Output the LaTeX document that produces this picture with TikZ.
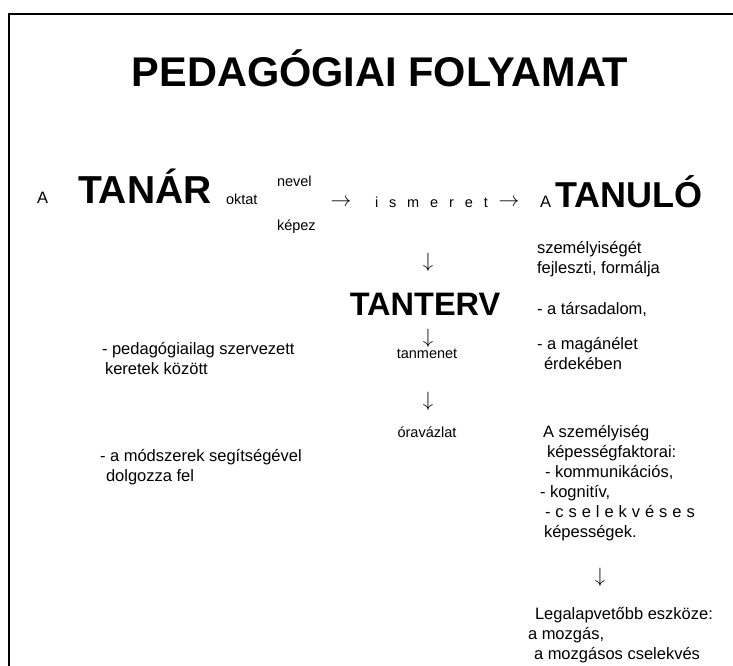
\documentclass[tikz,border=0pt]{standalone}
\usepackage{fontspec}
\setmainfont{Liberation Sans}
\usetikzlibrary{positioning}

\begin{document}
\begin{tikzpicture}[x=1pt,y=-1pt,
  every node/.style={inner sep=0pt,outer sep=0pt},
  lbl/.style={anchor=base west,align=left,font=\fontsize{16.5}{20}\selectfont},
  mid/.style={anchor=base,font=\fontsize{14.5}{18}\selectfont},
  big/.style={anchor=base west,font=\fontsize{36}{40}\selectfont\bfseries},
  arr/.style={font=\fontsize{20.74}{22}\selectfont}]
  \useasboundingbox (0,0) rectangle (733,666);
  \draw[line width=1.2pt] (9,666)--(9,14)--(733,14);

  \node[anchor=base,font=\fontsize{41.5}{44}\selectfont\bfseries] (title) at (380,87) {PEDAGÓGIAI FOLYAMAT};

  % first row (multi-line nodes sit on their last line)
  \node[lbl] (a1) at (37,203) {A};
  \node[big,font=\fontsize{39}{40}\selectfont\bfseries] (tanar) at (78,203) {TANÁR};
  \node[mid,anchor=base west] (oktat) at (226,204) {oktat};
  \node[mid,anchor=base west] (nevel) at (277,186) {nevel};
  \node[mid,anchor=base west] (kepez) at (277,230) {képez};
  \node[arr] (r1) at (341,203) {$\rightarrow$};
  \node[mid,anchor=base west] (ismeret) at (375,207) {{\spaceskip=.75em\relax i s m e r e t}};
  \node[arr] (r2) at (509,203) {$\rightarrow$};
  \node[lbl] (a2) at (540,207) {A};
  \node[big] (tanulo) at (555,207) {TANULÓ};
  \node[lbl] (szem) at (537,273) {személyiségét\\fejleszti, formálja};

  % middle column
  \node[arr] (d1) at (428,262) {$\downarrow$};
  \node[big,anchor=base,font=\fontsize{32.5}{36}\selectfont\bfseries] (tanterv) at (425,315) {TANTERV};
  \node[arr] (d2) at (428,338) {$\downarrow$};
  \node[mid] (tanmenet) at (427,358) {tanmenet};
  \node[arr] (d3) at (428,401) {$\downarrow$};
  \node[mid] (ora) at (427,437) {óravázlat};

  % right column
  \node[lbl] (tars) at (537,314) {- a társadalom,};
  \node[lbl] (magan) at (537,369) {- a magánélet\\\hspace{7pt}érdekében};
  \node[lbl] (kepes) at (540,537) {\hspace{3pt}A személyiség\\\hspace{7pt}képességfaktorai:\\\hspace{5pt}- kommunikációs,\\- kognitív,\\\hspace{5pt}{\spaceskip=.3em\relax - c s e l e k v é s e s}\\\hspace{4pt}képességek.};
  \node[arr] (d4) at (600,577) {$\downarrow$};
  \node[lbl] (eszk) at (528,659) {\hspace{7pt}Legalapvetőbb eszköze:\\a mozgás,\\\hspace{6pt}a mozgásos cselekvés};

  % left column
  \node[lbl] (keret) at (102,374) {- pedagógiailag szervezett\\\hspace{3pt}keretek között};
  \node[lbl] (modsz) at (100,481) {- a módszerek segítségével\\\hspace{6pt}dolgozza fel};
\end{tikzpicture}
\end{document}
